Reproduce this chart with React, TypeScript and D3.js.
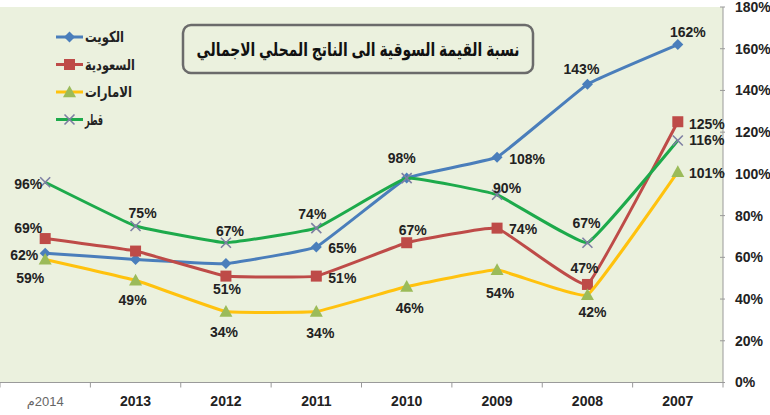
import React from "react";
import * as d3 from "d3";

const years = ["2014م", "2013", "2012", "2011", "2010", "2009", "2008", "2007"];
const kuwait = [62, 59, 57, 65, 98, 108, 143, 162];
const saudi = [69, 63, 51, 51, 67, 74, 47, 125];
const uae = [59, 49, 34, 34, 46, 54, 42, 101];
const qatar = [96, 75, 67, 74, 98, 90, 67, 116];
const seriesNames = ["الكويت", "السعودية", "الامارات", "قطر"];
const yTicks = [0, 20, 40, 60, 80, 100, 120, 140, 160, 180];
const title = "نسبة القيمة السوقية الى الناتج المحلي الاجمالي";

// label placement (text centre offset from point); null = no label
const kuwaitLabelPos: ([number, number] | null)[] = [[-21, 2], null, null, [26, 1], [-5, -20], [30, 2], [-6, -15], [10, -12]];
const saudiLabelPos: ([number, number] | null)[] = [[-17, -10], null, [1, 13], [26, 2], [6, -13], [26, 1], [-3, -16], [29, 2]];
const uaeLabelPos: ([number, number] | null)[] = [[-15, 19], [-3, 20], [-2, 21], [4, 22], [3, 22], [3, 23], [5, 17], [29, 1]];
const qatarLabelPos: ([number, number] | null)[] = [[-17, 2], [7, -13], [4, -12], [-4, -14], null, [10, -7], [-1, -20], [29, 0]];
const legendTextWidths = [39, 50, 47, 18];

const W = 770, H = 415;
const plotL = 0, plotR = 723, plotT = 7, plotB = 382.5;

export default function App() {
  const x = d3.scaleBand<string>().domain(years).range([plotL, plotR]);
  const y = d3.scaleLinear().domain([0, 180]).range([plotB, plotT]);
  const cx = (i: number) => (x(years[i]) as number) + x.bandwidth() / 2;

  const series = [
    { name: seriesNames[0], data: kuwait, line: "#4A7EBB", marker: "#4A7EBB", shape: "diamond", labels: kuwaitLabelPos },
    { name: seriesNames[1], data: saudi, line: "#BE4B48", marker: "#BE4B48", shape: "square", labels: saudiLabelPos },
    { name: seriesNames[2], data: uae, line: "#FFC20E", marker: "#9BBB59", shape: "triangle", labels: uaeLabelPos },
    { name: seriesNames[3], data: qatar, line: "#1DAA4B", marker: "#7E7FA3", shape: "x", labels: qatarLabelPos },
  ];

  const lineGen = d3.line<number>()
    .x((_, i) => cx(i))
    .y((d) => y(d))
    .curve(d3.curveCardinal.tension(0.75));

  const marker = (shape: string, color: string, px: number, py: number, key: string) => {
    if (shape === "diamond") {
      const s = 5.5;
      return <path key={key} d={`M${px},${py - s}L${px + s},${py}L${px},${py + s}L${px - s},${py}Z`} fill={color} />;
    }
    if (shape === "square") {
      const s = 5.5;
      return <rect key={key} x={px - s} y={py - s} width={2 * s} height={2 * s} fill={color} />;
    }
    if (shape === "triangle") {
      const s = 6.5;
      return <path key={key} d={`M${px},${py - s}L${px + s},${py + s * 0.8}L${px - s},${py + s * 0.8}Z`} fill={color} />;
    }
    const s = 5;
    return (
      <path key={key} d={`M${px - s},${py - s}L${px + s},${py + s}M${px - s},${py + s}L${px + s},${py - s}`} stroke={color} strokeWidth={1.6} fill="none" />
    );
  };

  const font = "Arial, 'Liberation Sans', 'DejaVu Sans', sans-serif";

  return (
    <svg width={W} height={H} style={{ position: "absolute", left: 0, top: 0, background: "#fff" }} fontFamily={font}>
      <rect x={plotL} y={plotT} width={plotR - plotL} height={plotB - plotT} fill="#EBF1DE" />
      {/* right axis */}
      <line x1={plotR} x2={plotR} y1={plotT} y2={plotB} stroke="#9a9a9a" strokeWidth={1} />
      {yTicks.map((t) => (
        <g key={t}>
          <line x1={plotR - 3} x2={plotR + 2} y1={y(t)} y2={y(t)} stroke="#9a9a9a" />
          <text x={735} y={y(t)} dy="0.35em" fontSize={14} fontWeight="bold" fill="#222">{t}%</text>
        </g>
      ))}
      {/* x axis */}
      <line x1={plotL} x2={plotR} y1={plotB} y2={plotB} stroke="#9a9a9a" strokeWidth={1} />
      {years.map((yr) => (
        <line key={"t" + yr} x1={x(yr) as number} x2={x(yr) as number} y1={plotB} y2={plotB + 5} stroke="#9a9a9a" />
      ))}
      <line x1={plotR} x2={plotR} y1={plotB} y2={plotB + 5} stroke="#9a9a9a" />
      {years.map((yr, i) =>
        i === 0 ? (
          <text key={yr} x={cx(i)} y={406} textAnchor="middle" fontSize={13} fill="#666"
            style={{ direction: "rtl", unicodeBidi: "embed" }}>{yr}</text>
        ) : (
          <text key={yr} x={cx(i)} y={406} textAnchor="middle" fontSize={14} fontWeight="bold" fill="#222">{yr}</text>
        )
      )}
      {/* title box */}
      <rect x={183} y={25} width={350} height={48} rx={8} ry={8} fill="#EBF1DE" stroke="#6b6b6b" strokeWidth={2.5} />
      <text x={358} y={49} dy="0.35em" textAnchor="middle" fontSize={19} fontWeight="bold" fill="#111"
        textLength={323} lengthAdjust="spacingAndGlyphs">{title}</text>
      {/* series */}
      {series.map((s) => (
        <g key={s.name}>
          <path d={lineGen(s.data) as string} fill="none" stroke={s.line} strokeWidth={3} />
          {s.data.map((v, i) => marker(s.shape, s.marker, cx(i), y(v), s.name + i))}
        </g>
      ))}
      {/* labels */}
      {series.map((s) =>
        s.data.map((v, i) => {
          const p = s.labels[i];
          if (!p) return null;
          return (
            <text key={s.name + "l" + i} x={cx(i) + p[0]} y={y(v) + p[1]} dy="0.35em" textAnchor="middle" fontSize={14} fontWeight="bold" fill="#222">
              {v}%
            </text>
          );
        })
      )}
      {/* legend */}
      {series.map((s, i) => {
        const ly = 37 + i * 27.5;
        return (
          <g key={"lg" + s.name}>
            <line x1={56} x2={83} y1={ly} y2={ly} stroke={s.line} strokeWidth={3} />
            {marker(s.shape, s.marker, 69.5, ly, "lm" + i)}
            <text x={85} y={ly} dy="0.35em" fontSize={15} fontWeight="bold" fill="#222"
              textLength={legendTextWidths[i]} lengthAdjust="spacingAndGlyphs">{s.name}</text>
          </g>
        );
      })}
    </svg>
  );
}
